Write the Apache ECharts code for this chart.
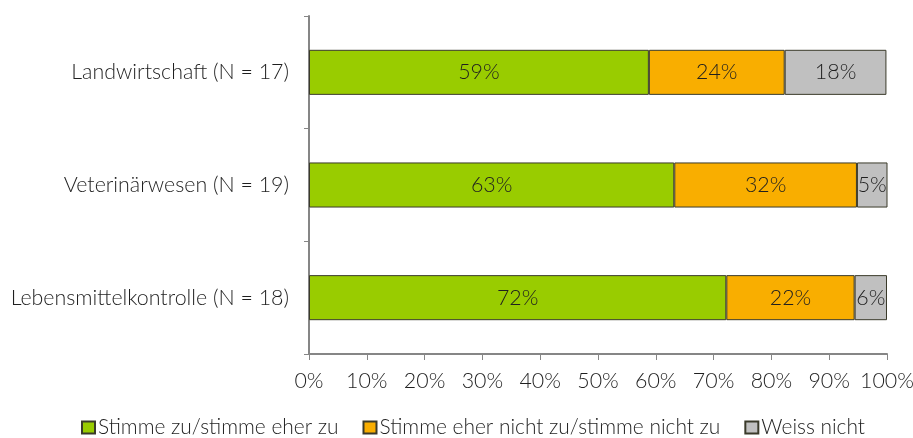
<!DOCTYPE html>
<html>
<head>
<meta charset="utf-8">
<script src="https://cdn.jsdelivr.net/npm/echarts@6/dist/echarts.min.js"></script>
<style>
  html, body { margin: 0; padding: 0; background: #fff; }
  #chart { width: 913px; height: 438px; }
</style>
</head>
<body>
<div id="chart"></div>
<script>
// Survey groups, bottom to top as the category axis draws them
const categories = [
  'Lebensmittelkontrolle (N = 18)',
  'Veterinärwesen (N = 19)',
  'Landwirtschaft (N = 17)'
];
// Answer shares in percent, same order as categories
const agree = [72.2, 63.2, 58.8];
const disagree = [22.2, 31.6, 23.5];
const dontKnow = [5.6, 5.3, 17.6];
const seriesNames = [
  'Stimme zu/stimme eher zu',
  'Stimme eher nicht zu/stimme nicht zu',
  'Weiss nicht'
];
const colors = ['#99CC00', '#F9AE00', '#C0C0C0'];

const FONT = 'Lato, "Open Sans", sans-serif';
const WEIGHT = 300;
const TEXT = '#1f1f1f';
const SIZE = 21.4;
const LEGEND_SIZE = 20.9;

const chart = echarts.init(document.getElementById('chart'));

function makeSeries(name, data, color) {
  return {
    name: name,
    type: 'bar',
    stack: 'total',
    data: data,
    barWidth: '40%',
    itemStyle: { color: color, borderColor: '#3a3a2a', borderWidth: 1 },
    label: {
      show: true,
      position: 'inside',
      color: TEXT,
      fontFamily: FONT,
      fontWeight: WEIGHT,
      fontSize: SIZE,
      formatter: p => Math.round(p.value) + '%'
    },
    emphasis: { disabled: true }
  };
}

chart.setOption({
  animation: false,
  textStyle: { fontFamily: FONT, fontWeight: WEIGHT },
  grid: {
    left: 309, right: 26, top: 16, bottom: 84,
    containLabel: false,
    outerBoundsMode: 'none'
  },
  legend: {
    top: 412,
    left: 76,
    icon: 'rect',
    itemWidth: 13,
    itemHeight: 12,
    itemGap: 24,
    textStyle: { color: TEXT, fontSize: LEGEND_SIZE, fontFamily: FONT, fontWeight: WEIGHT, padding: [0, 0, 0, -2] },
    data: seriesNames
  },
  xAxis: {
    type: 'value',
    min: 0,
    max: 100,
    interval: 10,
    axisLine: { show: true, lineStyle: { color: '#868686', width: 2 } },
    axisTick: { show: true, length: 6, lineStyle: { color: '#868686', width: 1 } },
    splitLine: { show: false },
    axisLabel: {
      color: TEXT, fontSize: SIZE, fontFamily: FONT, fontWeight: WEIGHT, margin: 17,
      formatter: v => v + '%'
    }
  },
  yAxis: {
    type: 'category',
    data: categories,
    axisLine: { show: true, lineStyle: { color: '#868686', width: 2 } },
    axisTick: { show: true, length: 5, lineStyle: { color: '#868686', width: 1 } },
    axisLabel: { color: TEXT, fontSize: SIZE, fontFamily: FONT, fontWeight: WEIGHT, margin: 20 }
  },
  series: [
    makeSeries(seriesNames[0], agree, colors[0]),
    makeSeries(seriesNames[1], disagree, colors[1]),
    makeSeries(seriesNames[2], dontKnow, colors[2])
  ]
});
</script>
</body>
</html>
